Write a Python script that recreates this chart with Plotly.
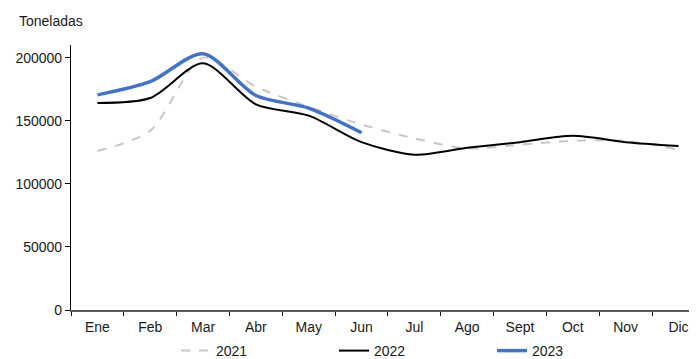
import plotly.graph_objects as go

meses = ['Ene', 'Feb', 'Mar', 'Abr', 'May', 'Jun', 'Jul', 'Ago', 'Sept', 'Oct', 'Nov', 'Dic']

# toneladas por mes
t2021 = [126000, 142000, 200000, 177000, 161000, 147000, 136000, 128000, 131000, 134000, 134000, 127000]
t2022 = [164000, 168000, 195500, 163000, 154000, 133000, 123000, 128500, 133000, 138000, 133000, 130000]
t2023 = [170500, 181000, 203000, 170000, 160000, 140500]

# la pagina tiene 8px de margen en el body, asi que la figura se achica 8px
W, H = 689, 351

fig = go.Figure()
fig.add_trace(go.Scatter(x=meses, y=t2021, name='2021', mode='lines',
                         line=dict(color='#c8c8c8', width=2, dash='dash', shape='spline', smoothing=0.8)))
fig.add_trace(go.Scatter(x=meses, y=t2022, name='2022', mode='lines',
                         line=dict(color='#000000', width=2, shape='spline', smoothing=0.8)))
fig.add_trace(go.Scatter(x=meses[:len(t2023)], y=t2023, name='2023', mode='lines',
                         line=dict(color='#4472c4', width=3.5, shape='spline', smoothing=0.8)))

fig.update_layout(
    width=W, height=H,
    margin=dict(l=63, r=0, t=37, b=49, autoexpand=False),
    plot_bgcolor='white', paper_bgcolor='white',
    font=dict(family='Arial, Liberation Sans', size=14, color='#1a1a1a'),
    showlegend=True,
    legend=dict(orientation='h', xref='container', yref='container',
                x=168 / W, xanchor='left', y=8 / H, yanchor='middle',
                entrywidth=113, entrywidthmode='pixels', itemwidth=30,
                font=dict(size=14), bgcolor='rgba(0,0,0,0)', traceorder='normal'),
)
fig.update_xaxes(range=[-0.5, 11.35], showgrid=False, showline=True, linecolor='#5a5a5a', linewidth=2,
                 ticks='outside', tickson='boundaries', ticklen=4, tickcolor='#1a1a1a',
                 ticklabelstandoff=3, zeroline=False)
fig.update_yaxes(range=[0, 210000], dtick=50000, showgrid=False, showline=True, linecolor='#000000',
                 linewidth=1.2, ticks='outside', ticklen=5, tickcolor='#000000',
                 tickformat='d', zeroline=False)
fig.add_annotation(text='Toneladas', xref='paper', yref='paper', x=(9 - 63) / 626, y=1 + (37 - 13) / 265,
                   xanchor='left', yanchor='middle', showarrow=False)

fig.write_html("out.html")
